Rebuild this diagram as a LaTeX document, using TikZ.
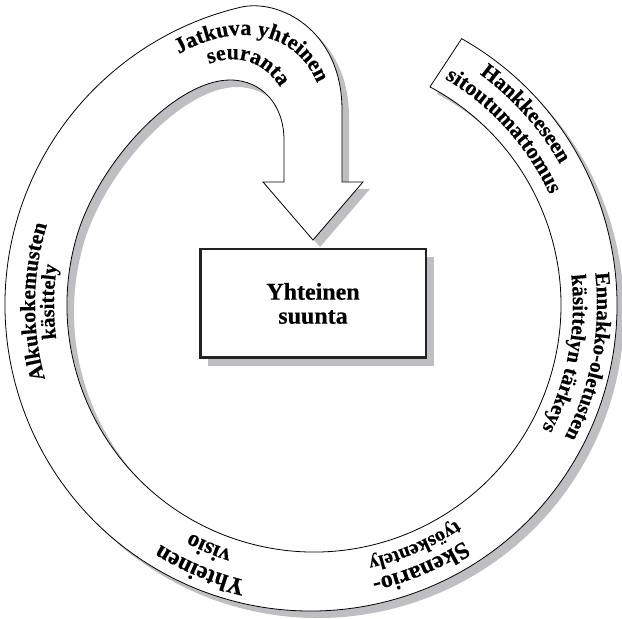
\documentclass[tikz,border=0pt]{standalone}
\usepackage{fontspec}
\setmainfont{Liberation Serif}[BoldFeatures={FakeBold=0.4}]
\usetikzlibrary{decorations.text,shadows}
\definecolor{shadowcol}{RGB}{190,190,195}
\definecolor{boxline}{RGB}{35,35,35}
\newcommand\lblfont[1]{\fontsize{#1}{#1}\selectfont\bfseries}
\tikzset{
  bandline/.style={draw=black, line width=0.8pt, fill=white},
  bandshadow/.style={fill=shadowcol, draw=none},
  curvlabel/.style={decorate, decoration={text along path, text align=center, text={#1}}},
  leftlabel/.style={decorate, decoration={text along path, text={#1}}},
  mainbox/.style={draw=boxline, line width=2.5pt, fill=white, minimum width=225.5pt,
    minimum height=108.5pt, inner sep=0pt, align=center, font={\lblfont{24}},
    general shadow={fill=shadowcol, shadow xshift=8pt, shadow yshift=-8pt}}
}
\begin{document}
\begin{tikzpicture}[x=1pt,y=1pt]
\useasboundingbox (0,0) rectangle (622,619);
% shadow of the spiral arrow band
\path[bandshadow, shift={(7,-7)}]
  ([shift={(311,314)}]60.5:306) arc[start angle=60.5, end angle=-256.6, radius=306]
  .. controls (279,621) and (342,589) .. (342,509) -- (342,437) -- (363,437)
  -- (313,379) -- (263,437) -- (284,437) -- (284,479)
  .. controls (284,514) and (262,539) .. (230,539)
  .. controls (175,539) and (96,455) .. (75.42,377.93)
  arc[start angle=165, end angle=422, radius=247] -- cycle;
% spiral arrow band
\path[bandline]
  ([shift={(311,314)}]60.5:306) arc[start angle=60.5, end angle=-256.6, radius=306]
  .. controls (279,621) and (342,589) .. (342,509) -- (342,437) -- (363,437)
  -- (313,379) -- (263,437) -- (284,437) -- (284,479)
  .. controls (284,514) and (262,539) .. (230,539)
  .. controls (175,539) and (96,455) .. (75.42,377.93)
  arc[start angle=165, end angle=422, radius=247] -- cycle;
% central box
\node[mainbox] (box) at (313,315.5) {Yhteinen\\suunta};
% curved labels
\path[leftlabel={|\lblfont{22}|Jatkuva yhteinen}]
  (179,565) .. controls (230,595) and (300,595) .. (321,525) -- (323,470);
\path[leftlabel={|\lblfont{22}|seuranta}]
  (209,555) .. controls (234,565) and (262,560) .. (280,532) -- (287,505);
\path[curvlabel={|\lblfont{21.5}|Alkukokemusten}]
  ([shift={(311,314)}]229.3:276) arc[start angle=229.3, end angle=129.3, radius=276];
\path[curvlabel={|\lblfont{20.5}|käsittely}]
  ([shift={(311,314)}]229.3:257) arc[start angle=229.3, end angle=129.3, radius=257];
\path[curvlabel={|\lblfont{21.5}|Hankkeeseen}]
  ([shift={(311,314)}]91.7:286) arc[start angle=91.7, end angle=-8.3, radius=286];
\path[curvlabel={|\lblfont{22}|sitoutumattomus}]
  ([shift={(311,314)}]92.1:263) arc[start angle=92.1, end angle=-7.9, radius=263];
\path[curvlabel={|\lblfont{21}|Ennakko-oletusten}]
  ([shift={(311,314)}]39.5:286) arc[start angle=39.5, end angle=-60.5, radius=286];
\path[curvlabel={|\lblfont{21}|käsittelyn tärkeys}]
  ([shift={(311,314)}]39.2:262) arc[start angle=39.2, end angle=-60.8, radius=262];
\path[curvlabel={|\lblfont{24}|Skenario-}]
  ([shift={(311,314)}]-17.3:281) arc[start angle=-17.3, end angle=-117.3, radius=281];
\path[curvlabel={|\lblfont{20}|työskentely}]
  ([shift={(311,314)}]-16.7:260) arc[start angle=-16.7, end angle=-116.7, radius=260];
\path[curvlabel={|\lblfont{24}|Yhteinen}]
  ([shift={(311,314)}]-62.7:283) arc[start angle=-62.7, end angle=-162.7, radius=283];
\path[curvlabel={|\lblfont{23}|visio}]
  ([shift={(311,314)}]-62.8:258) arc[start angle=-62.8, end angle=-162.8, radius=258];
\end{tikzpicture}
\end{document}
